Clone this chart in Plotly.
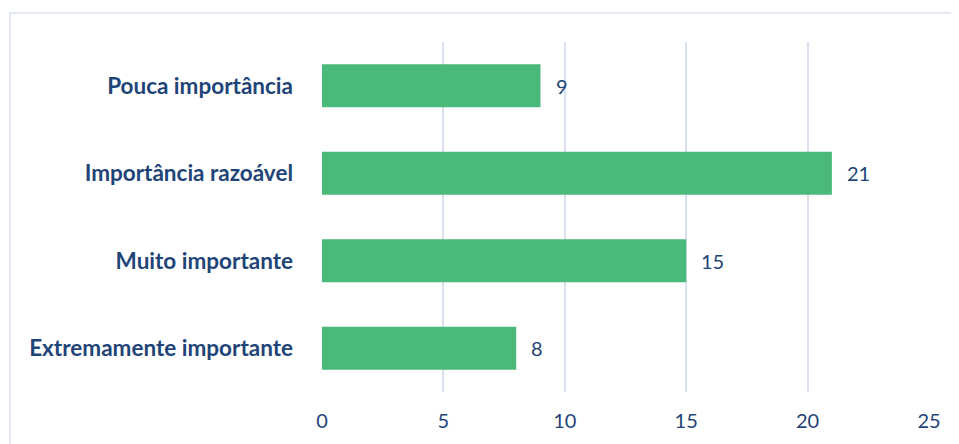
import plotly.graph_objects as go

categories = [
    "Extremamente importante",
    "Muito importante",
    "Importância razoável",
    "Pouca importância",
]
values = [8, 15, 21, 9]
tick_values = [0, 5, 10, 15, 20, 25]

text_color = "#1F4478"
bar_color = "#4BB97A"
grid_color = "#D6E0EF"
font_family = "Lato, sans-serif"

fig = go.Figure(
    go.Bar(
        y=categories,
        x=values,
        orientation="h",
        marker={"color": bar_color, "line": {"width": 0}},
        width=0.49,
    )
)

for cat, val in zip(categories, values):
    fig.add_annotation(
        x=val,
        y=cat,
        text=str(val),
        showarrow=False,
        xanchor="left",
        xshift=13,
        font={"family": font_family, "size": 20, "color": text_color},
    )

# light frame around the chart area (Excel-style), cut off on the right and bottom
fig.add_shape(
    type="rect",
    xref="paper",
    yref="paper",
    x0=(10 - 322) / 607,
    x1=(1000 - 322) / 607,
    y0=(392 - 480) / 350,
    y1=(392 - 13) / 350,
    line={"color": "#DAE4F1", "width": 1.5},
    layer="below",
)

# page body has an 8px margin, so the figure is drawn 8px in from the corner
fig.update_layout(
    width=951,
    height=436,
    margin=dict(l=314, r=30, t=34, b=52),
    plot_bgcolor="white",
    paper_bgcolor="white",
    showlegend=False,
    xaxis={
        "range": [0, 25],
        "tickvals": tick_values,
        "showgrid": True,
        "gridcolor": grid_color,
        "gridwidth": 1.5,
        "zeroline": False,
        "showline": False,
        "ticks": "",
        "tickfont": {"family": font_family, "size": 20, "color": text_color},
        "ticklabelstandoff": 15,
    },
    yaxis={
        "showgrid": False,
        "zeroline": False,
        "ticks": "",
        "ticklabelstandoff": 28,
        "tickfont": {"family": font_family, "size": 22.5, "color": text_color, "weight": "bold"},
    },
)

fig.write_html("out.html")
